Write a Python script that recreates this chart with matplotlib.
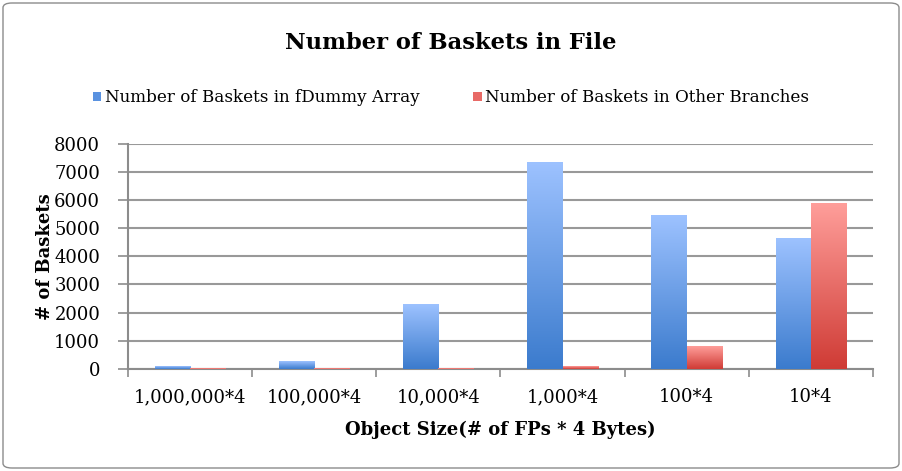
import matplotlib.pyplot as plt
import numpy as np
from matplotlib.colors import LinearSegmentedColormap
from matplotlib.patches import FancyBboxPatch, Rectangle

# data
categories = ['1,000,000*4', '100,000*4', '10,000*4', '1,000*4', '100*4', '10*4']
dummy_baskets = [90, 275, 2300, 7350, 5470, 4630]
other_baskets = [10, 20, 5, 95, 785, 5890]
series_names = ['Number of Baskets in fDummy Array', 'Number of Baskets in Other Branches']

plt.rcParams['font.family'] = ['DejaVu Serif']

blue_cmap = LinearSegmentedColormap.from_list('blue', ['#3b7bcd', '#9dc2ff'])
red_cmap = LinearSegmentedColormap.from_list('red', ['#cf3b35', '#ff9e9a'])


def gradient_bars(ax, bars, cmap):
    grad = np.linspace(0, 1, 256).reshape(-1, 1)
    for b in bars:
        x0, y0 = b.get_x(), b.get_y()
        w, h = b.get_width(), b.get_height()
        b.set_facecolor('none')
        b.set_edgecolor('none')
        ax.imshow(grad, cmap=cmap, origin='lower', aspect='auto',
                  extent=(x0, x0 + w, y0, y0 + h), zorder=3)


fig = plt.figure(figsize=(9.02, 4.71), dpi=100)
ax = fig.add_axes([128 / 902, 1 - 368.7 / 471, (873 - 128) / 902, (368.7 - 144) / 471])

# outer frame
fig.patches.append(FancyBboxPatch((3 / 902, 3 / 471), 896 / 902, 465 / 471,
                                  boxstyle='round,pad=0,rounding_size=0.01',
                                  transform=fig.transFigure, fill=False,
                                  edgecolor='#8c8c8c', linewidth=1.0))

x = np.arange(len(categories))
w = 0.285
b1 = ax.bar(x - w / 2, dummy_baskets, w, zorder=3)
b2 = ax.bar(x + w / 2, other_baskets, w, zorder=3)
gradient_bars(ax, b1, blue_cmap)
gradient_bars(ax, b2, red_cmap)

ax.set_xlim(-0.5, len(categories) - 0.5)
ax.set_ylim(0, 8000)
ax.set_yticks(np.arange(0, 8001, 1000))
ax.set_xticks(x)
ax.set_xticklabels(categories)
ax.set_xticks(np.arange(-0.5, len(categories), 1), minor=True)
ax.tick_params(axis='x', which='major', length=0, pad=14, labelsize=13)
ax.tick_params(axis='x', which='minor', length=6, width=1.2, color='#8c8c8c', direction='out')
ax.tick_params(axis='y', length=7, width=1.2, color='#8c8c8c', labelsize=13, pad=13)
ax.grid(axis='y', color='#999999', linewidth=1.5, zorder=0)
ax.set_axisbelow(True)
for s in ['top', 'right']:
    ax.spines[s].set_visible(False)
for s in ['left', 'bottom']:
    ax.spines[s].set_color('#8c8c8c')
    ax.spines[s].set_linewidth(1.5)

ax.set_ylabel('# of Baskets', fontsize=13, fontweight='bold', va='center')
ax.yaxis.set_label_coords((45 - 128) / 745, 0.5)
ax.set_xlabel('Object Size(# of FPs * 4 Bytes)', fontsize=13, fontweight='bold', va='center')
ax.xaxis.set_label_coords(0.5, (368.7 - 430) / 224.7)
fig.text(0.5, 1 - 43 / 471, 'Number of Baskets in File', ha='center', va='center',
         fontsize=16.3, fontweight='bold')

handles = [Rectangle((0, 0), 1, 1, facecolor='#5a92e0'),
           Rectangle((0, 0), 1, 1, facecolor='#e86a66')]
fig.legend(handles, series_names, loc='center', bbox_to_anchor=(0.5, 1 - 98 / 471),
           ncol=2, frameon=False, fontsize=12.1, handlelength=0.5, handleheight=0.5,
           handletextpad=0.2, columnspacing=3.2)

fig.savefig('out.png', dpi=100)
